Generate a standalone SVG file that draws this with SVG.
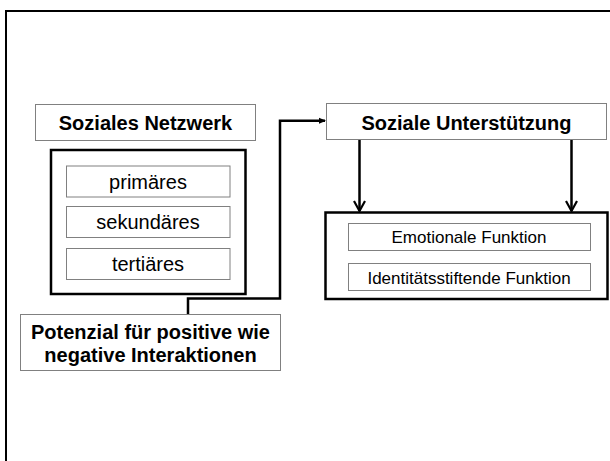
<svg xmlns="http://www.w3.org/2000/svg" width="610" height="461" viewBox="0 0 610 461">
<style>
.thin{fill:#fff;stroke:#808080;stroke-width:1}
.thick{fill:#fff;stroke:#000;stroke-width:2.5}
.b{font-family:"Liberation Sans",Arial,sans-serif;font-weight:bold;font-size:20px;fill:#000;text-anchor:middle}
.r{font-family:"Liberation Sans",Arial,sans-serif;font-size:20px;fill:#000;text-anchor:middle}
.s{font-family:"Liberation Sans",Arial,sans-serif;font-size:17px;fill:#000;text-anchor:middle}
.c{fill:none;stroke:#000;stroke-width:2.5}
</style>
<defs>
<marker id="tri" markerWidth="8" markerHeight="8" refX="6" refY="4" orient="auto" markerUnits="userSpaceOnUse">
<path d="M0,1 L7,4 L0,7 z" fill="#000"/>
</marker>
<marker id="chev" markerWidth="14" markerHeight="14" refX="11" refY="7" orient="auto" markerUnits="userSpaceOnUse">
<path d="M1,1.5 L11,7 L1,12.5" fill="none" stroke="#000" stroke-width="2.2"/>
</marker>
</defs>
<rect x="6" y="11" width="620" height="470" fill="#fff" stroke="#000" stroke-width="2"/>
<g id="connectors">
<path class="c" d="M188,323 V298.5 H280 V120.7 H325" marker-end="url(#tri)"/>
<path class="c" d="M359.5,139.5 V211" marker-end="url(#chev)"/>
<path class="c" d="M571.5,139.5 V211" marker-end="url(#chev)"/>
</g>
<g id="soziales-netzwerk">
<rect class="thin" x="35.5" y="104.5" width="220" height="36"/>
<text class="b" x="145.5" y="130">Soziales Netzwerk</text>
</g>
<g id="netzwerk-typen">
<rect class="thick" x="51" y="150" width="194.5" height="144"/>
</g>
<g id="primaeres">
<rect class="thin" x="66.5" y="166" width="163.5" height="31"/>
<text class="r" x="148" y="188.5">primäres</text>
</g>
<g id="sekundaeres">
<rect class="thin" x="66.5" y="206.5" width="163.5" height="31"/>
<text class="r" x="148" y="229">sekundäres</text>
</g>
<g id="tertiaeres">
<rect class="thin" x="66.5" y="248.5" width="163.5" height="31"/>
<text class="r" x="148" y="271">tertiäres</text>
</g>
<g id="potenzial">
<rect class="thin" x="20.5" y="314.5" width="260" height="56"/>
<text class="b" x="150.5" y="338.5">Potenzial für positive wie</text>
<text class="b" x="150.5" y="361.5">negative Interaktionen</text>
</g>
<g id="soziale-unterstuetzung">
<rect class="thin" x="326.5" y="103.5" width="280" height="36"/>
<text class="b" x="466.5" y="130">Soziale Unterstützung</text>
</g>
<g id="funktionen">
<rect class="thick" x="325.5" y="212.5" width="282" height="86.5"/>
</g>
<g id="emotionale-funktion">
<rect class="thin" x="348.5" y="223.5" width="242" height="27"/>
<text class="s" x="469" y="243">Emotionale Funktion</text>
</g>
<g id="identitaet-funktion">
<rect class="thin" x="348.5" y="263.5" width="242" height="27"/>
<text class="s" x="469" y="283.5">Identitätsstiftende Funktion</text>
</g>
</svg>
